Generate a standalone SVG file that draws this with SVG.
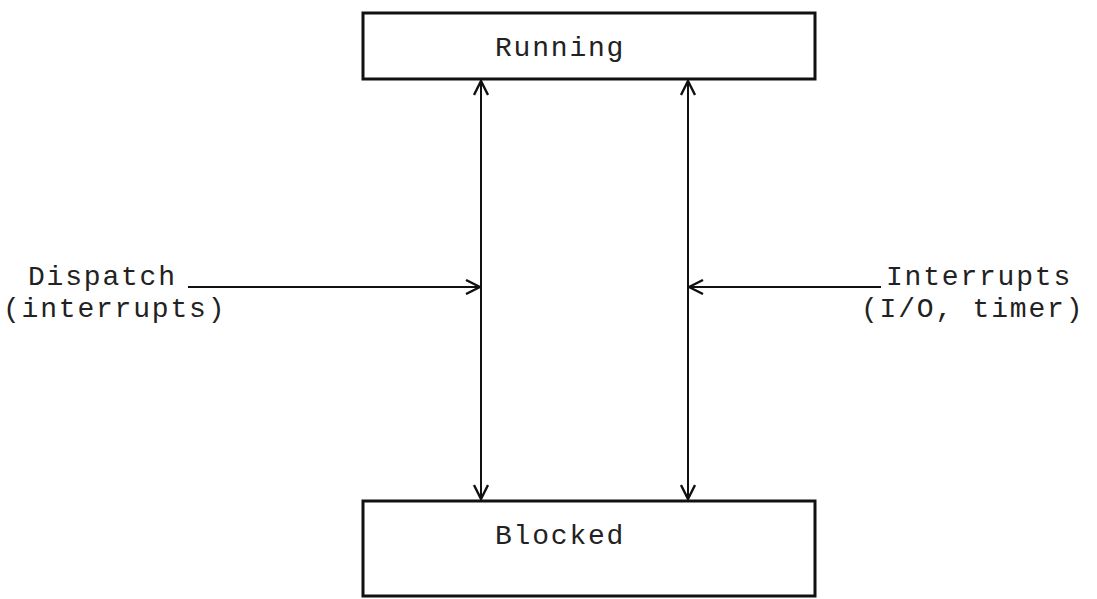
<svg xmlns="http://www.w3.org/2000/svg" width="1097" height="599" viewBox="0 0 1097 599">
<style>
.box{fill:#fff;stroke:#111;stroke-width:3}
.lbl{font-family:"Liberation Mono",monospace;font-size:28px;letter-spacing:1.8px;fill:#222}
.ln{stroke:#111;stroke-width:2;fill:none}
</style>
<defs>
<marker id="ah" viewBox="0 0 16 16" refX="15" refY="8" markerWidth="16" markerHeight="16" markerUnits="userSpaceOnUse" orient="auto-start-reverse">
<path d="M1,1 L15,8 L1,15" fill="none" stroke="#111" stroke-width="2.4"/>
</marker>
</defs>
<rect width="1097" height="599" fill="#fff"/>
<g id="running">
<rect class="box" x="363" y="13" width="452" height="66"/>
<text class="lbl" x="495" y="56">Running</text>
</g>
<g id="blocked">
<rect class="box" x="363" y="501" width="452" height="95"/>
<text class="lbl" x="495" y="544">Blocked</text>
</g>
<g id="connectors">
<line class="ln" x1="481" y1="81" x2="481" y2="499" marker-start="url(#ah)" marker-end="url(#ah)"/>
<line class="ln" x1="688" y1="81" x2="688" y2="499" marker-start="url(#ah)" marker-end="url(#ah)"/>
<line class="ln" x1="188" y1="287" x2="480" y2="287" marker-end="url(#ah)"/>
<line class="ln" x1="881" y1="287" x2="689" y2="287" marker-end="url(#ah)"/>
</g>
<g id="dispatch">
<text class="lbl" x="28" y="285">Dispatch</text>
<text class="lbl" x="3" y="317">(interrupts)</text>
</g>
<g id="interrupts">
<text class="lbl" x="886" y="285">Interrupts</text>
<text class="lbl" x="861" y="317">(I/O, timer)</text>
</g>
</svg>
